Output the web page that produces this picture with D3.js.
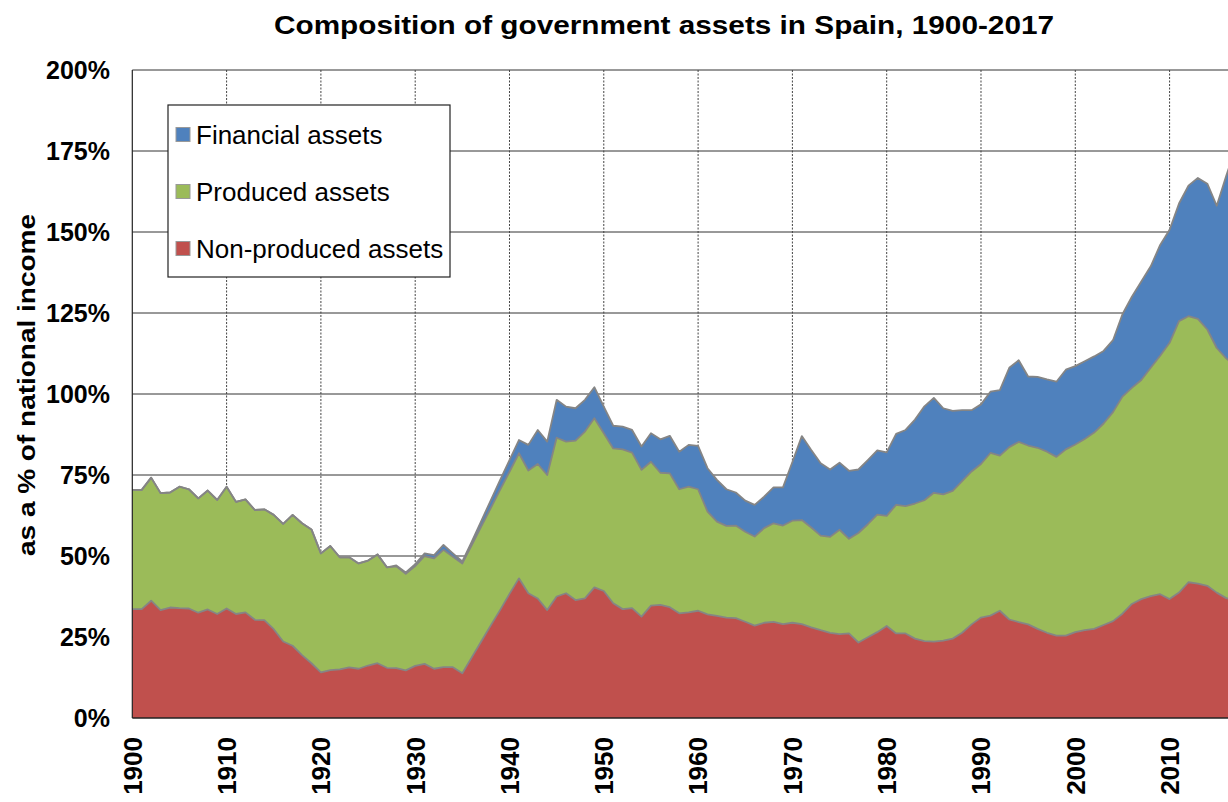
<!DOCTYPE html>
<html>
<head>
<meta charset="utf-8">
<script src="https://cdn.jsdelivr.net/npm/d3@7"></script>
<style>
  body { margin: 0; background: #fff; }
  text { font-family: "Liberation Sans", Arial, sans-serif; }
</style>
</head>
<body>
<svg id="chart" width="1228" height="802"></svg>
<script>
// years 1900..2017, values as % of national income
var years = d3.range(1900, 2018);

var nonProduced = [
  33.6, 33.6, 36.2, 33.3, 34.1, 33.9, 33.8, 32.5, 33.5, 32.1,
  33.8, 32.1, 32.6, 30.3, 30.2, 27.4, 23.6, 22.3, 19.4, 16.9,
  14.1, 14.8, 15.0, 15.6, 15.2, 16.2, 16.9, 15.5, 15.4, 14.7,
  16.1, 16.7, 15.2, 15.7, 15.7, 13.8, 18.7, 23.6, 28.5, 33.3,
  38.3, 43.1, 38.5, 36.9, 33.3, 37.5, 38.5, 36.4, 36.9, 40.3,
  39.2, 35.4, 33.6, 33.9, 31.3, 34.7, 34.9, 34.2, 32.3, 32.6,
  33.1, 32.0, 31.5, 31.0, 30.8, 29.7, 28.5, 29.4, 29.7, 29.0,
  29.4, 29.0, 28.0, 27.1, 26.3, 25.9, 26.1, 23.3, 24.9, 26.5,
  28.4, 26.1, 26.1, 24.5, 23.7, 23.6, 23.9, 24.5, 26.3, 28.9,
  31.0, 31.6, 33.1, 30.4, 29.6, 28.9, 27.5, 26.3, 25.4, 25.4,
  26.5, 27.1, 27.5, 28.7, 29.9, 32.2, 35.2, 36.7, 37.6, 38.2,
  36.7, 38.7, 41.9, 41.5, 40.8, 38.7, 37.0, 36.4
];

var produced = [
  36.8, 36.8, 38.0, 36.1, 35.5, 37.5, 36.8, 35.3, 36.7, 35.2,
  37.6, 34.6, 34.9, 33.9, 34.2, 35.3, 36.3, 40.4, 40.7, 41.3,
  36.7, 38.3, 34.6, 34.0, 32.5, 32.4, 33.6, 31.0, 31.4, 29.8,
  30.8, 33.3, 34.1, 36.2, 34.1, 33.9, 34.7, 35.5, 36.2, 37.1,
  37.7, 38.6, 37.9, 41.5, 41.7, 49.0, 46.8, 49.2, 51.5, 52.2,
  48.7, 47.8, 49.3, 48.0, 45.3, 44.4, 40.8, 41.3, 38.3, 38.8,
  37.5, 31.7, 29.1, 28.3, 28.6, 27.8, 27.5, 29.2, 30.4, 30.4,
  31.5, 32.1, 30.8, 29.2, 29.6, 32.2, 29.2, 33.8, 34.9, 36.3,
  34.0, 39.7, 39.3, 41.7, 43.5, 45.9, 45.1, 45.6, 46.8, 47.2,
  47.4, 50.2, 47.9, 53.2, 55.6, 55.2, 55.9, 55.9, 55.2, 57.5,
  57.9, 59.0, 60.6, 62.2, 64.5, 67.0, 66.7, 67.6, 70.5, 73.6,
  79.1, 83.8, 82.1, 81.7, 79.1, 75.5, 74.0, 72.2
];

var financial = [
  0, 0, 0, 0, 0, 0, 0, 0, 0, 0,
  0, 0, 0, 0, 0, 0, 0, 0, 0, 0,
  0, 0, 0, 0, 0, 0, 0, 0, 0.3, 0.4,
  0.6, 0.8, 1.0, 1.5, 1.0, 0.6, 1.0, 1.7, 2.4, 3.0,
  3.6, 4.1, 7.9, 10.5, 10.3, 11.7, 10.8, 10.0, 9.8, 9.6,
  8.2, 7.0, 7.0, 7.0, 7.2, 8.8, 10.3, 11.6, 11.6, 12.9,
  13.4, 13.4, 12.9, 11.3, 10.2, 9.6, 9.8, 9.7, 11.1, 11.8,
  18.1, 25.9, 23.9, 22.3, 20.8, 20.7, 21.0, 19.6, 19.8, 19.8,
  19.6, 21.9, 23.5, 25.9, 29.0, 29.3, 26.6, 24.7, 21.9, 18.9,
  18.4, 18.9, 20.2, 24.5, 25.2, 21.3, 21.9, 22.3, 23.2, 24.6,
  24.2, 24.0, 23.5, 22.4, 22.2, 25.4, 28.1, 30.4, 31.3, 34.2,
  34.9, 36.3, 40.3, 43.5, 45.0, 43.9, 56.3, 67.4
];

var keys = ['nonProduced', 'produced', 'financial'];
var labels = {financial: 'Financial assets', produced: 'Produced assets', nonProduced: 'Non-produced assets'};
var colors = {nonProduced: '#C0504D', produced: '#9BBB59', financial: '#4F81BD'};
var yTicks = [0, 25, 50, 75, 100, 125, 150, 175, 200];
var xTicks = d3.range(1900, 2011, 10);

var table = years.map(function(yr, i) {
  return {year: yr, nonProduced: nonProduced[i], produced: produced[i], financial: financial[i]};
});

var svg = d3.select('#chart');
var plotL = 132.3, plotR = 1235.6, plotT = 70, plotB = 718;

var x = d3.scaleLinear().domain([1900, 2017]).range([plotL, plotR]);
var y = d3.scaleLinear().domain([0, 200]).range([plotB, plotT]);

// gridlines
svg.append('g').selectAll('line').data(yTicks.filter(d => d > 0)).enter().append('line')
  .attr('x1', plotL).attr('x2', plotR)
  .attr('y1', d => y(d)).attr('y2', d => y(d))
  .attr('stroke', '#333').attr('stroke-width', 1);

svg.append('g').selectAll('line').data(xTicks.filter(d => d > 1900)).enter().append('line')
  .attr('x1', d => x(d)).attr('x2', d => x(d))
  .attr('y1', plotT).attr('y2', plotB)
  .attr('stroke', '#444').attr('stroke-width', 1).attr('stroke-dasharray', '2,1.5');

// stacked areas
var stack = d3.stack().keys(keys);
var layers = stack(table);

var area = d3.area()
  .x(d => x(d.data.year))
  .y0(d => y(d[0]))
  .y1(d => y(d[1]));

var topLine = d3.line()
  .x(d => x(d.data.year))
  .y(d => y(d[1]));

svg.append('g').selectAll('path').data(layers).enter().append('path')
  .attr('d', area)
  .attr('fill', d => colors[d.key]);

svg.append('g').selectAll('path').data(layers).enter().append('path')
  .attr('d', topLine)
  .attr('fill', 'none')
  .attr('stroke', '#858585')
  .attr('stroke-width', 1.8)
  .attr('stroke-linejoin', 'round');

// axes lines
svg.append('line').attr('x1', plotL).attr('x2', plotL).attr('y1', plotT).attr('y2', plotB)
  .attr('stroke', '#222').attr('stroke-width', 1.2);
svg.append('line').attr('x1', plotL).attr('x2', plotR).attr('y1', plotB).attr('y2', plotB)
  .attr('stroke', '#222').attr('stroke-width', 1.5);

// y axis labels
svg.append('g').selectAll('text').data(yTicks).enter().append('text')
  .attr('x', 110).attr('y', d => y(d))
  .attr('dy', '0.36em')
  .attr('text-anchor', 'end')
  .attr('font-size', 25).attr('font-weight', 'bold')
  .text(d => d + '%');

// x axis labels (rotated)
svg.append('g').selectAll('text').data(xTicks).enter().append('text')
  .attr('transform', d => 'translate(' + x(d) + ',737) rotate(-90)')
  .attr('dy', '0.36em')
  .attr('text-anchor', 'end')
  .attr('font-size', 26).attr('font-weight', 'bold')
  .text(d => d);

// y axis title
svg.append('text')
  .attr('transform', 'translate(27,385) rotate(-90)')
  .attr('dy', '0.36em')
  .attr('text-anchor', 'middle')
  .attr('font-size', 23).attr('font-weight', 'bold')
  .attr('textLength', 342).attr('lengthAdjust', 'spacingAndGlyphs')
  .text('as a % of national income');

// title
svg.append('text')
  .attr('x', 664).attr('y', 34)
  .attr('text-anchor', 'middle')
  .attr('font-size', 26).attr('font-weight', 'bold')
  .attr('textLength', 780).attr('lengthAdjust', 'spacingAndGlyphs')
  .text('Composition of government assets in Spain, 1900-2017');

// legend
var legend = svg.append('g');
legend.append('rect')
  .attr('x', 168).attr('y', 105).attr('width', 282).attr('height', 172)
  .attr('fill', '#fff').attr('stroke', '#222').attr('stroke-width', 1.2);

var legendKeys = ['financial', 'produced', 'nonProduced'];
var item = legend.selectAll('g.item').data(legendKeys).enter().append('g')
  .attr('class', 'item')
  .attr('transform', (d, i) => 'translate(176,' + (134.5 + i * 57) + ')');
item.append('rect')
  .attr('x', 0).attr('y', -7).attr('width', 14).attr('height', 14)
  .attr('fill', d => colors[d]).attr('stroke', '#999').attr('stroke-width', 1);
item.append('text')
  .attr('x', 20).attr('y', 0).attr('dy', '0.36em')
  .attr('font-size', 26)
  .text(d => labels[d]);
</script>
</body>
</html>
